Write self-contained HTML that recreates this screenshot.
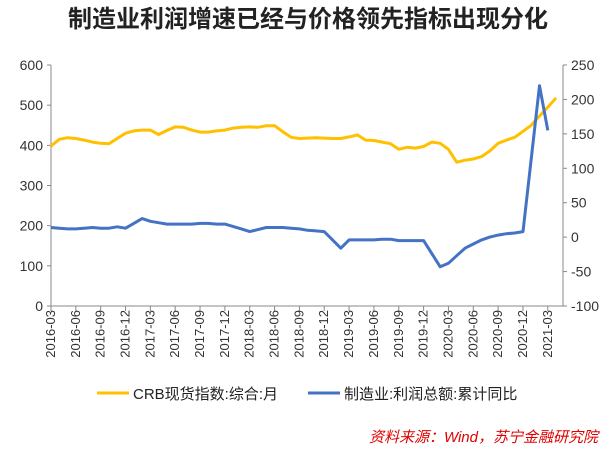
<!DOCTYPE html>
<html><head><meta charset="utf-8"><style>
body{margin:0;background:#fff;width:610px;height:448px;overflow:hidden;font-family:"Liberation Sans","Noto Sans CJK SC",sans-serif}
svg text{font-family:"Liberation Sans","Noto Sans CJK SC",sans-serif}
</style></head><body>
<svg id="chart" width="610" height="448" xmlns="http://www.w3.org/2000/svg">
<text x="308" y="27" text-anchor="middle" font-size="24" font-weight="bold" fill="#222">制造业利润增速已经与价格领先指标出现分化</text>
<g id="axes"></g>
<g id="marks"></g>
<g>
<line x1="97" y1="393" x2="129" y2="393" stroke="#FFC000" stroke-width="3"/>
<text x="133" y="399" font-size="15" fill="#222">CRB现货指数:综合:月</text>
<line x1="308" y1="393" x2="340" y2="393" stroke="#4472C4" stroke-width="3"/>
<text x="344" y="399" font-size="15" fill="#222">制造业:利润总额:累计同比</text>
</g>
<text x="598" y="442" text-anchor="end" font-size="15" font-style="italic" fill="#E00000">资料来源：Wind，苏宁金融研究院</text>
</svg>
<script>
const months = [];
for (let y = 2016, m = 3; months.length < 62; ) { months.push(y + '-' + String(m).padStart(2,'0')); m++; if (m > 12) { m = 1; y++; } }
const leftTicks = [0,100,200,300,400,500,600];
const rightTicks = [-100,-50,0,50,100,150,200,250];
const crbValues = [398,415,419,417,413,408,405,404,417,430,436,438,438,427,437,446,445,438,433,433,436,438,443,445,446,445,449,449,434,420,417,418,419,418,417,417,421,426,413,412,408,404,390,395,393,397,408,405,390,358,363,366,372,386,405,413,420,435,450,473,495,518];
const profitValues = [14,13,12,12,13,14,13,13,15,13,null,27,23,21,19,19,19,19,20,20,19,19,null,12,8,11,14,14,14,13,12,10,9,8,null,-16,-4,-4,-4,-4,-3,-3,-5,-5,-5,-5,null,-43,-38,-27,-16,-10,-4,0,3,5,6,8,null,220,155,null];

const NS = 'http://www.w3.org/2000/svg';
const X0 = 51, DX = 8.28, YB = 306, YT = 65, XR = 563;
const xOf = i => X0 + i * DX;
const yL = v => YB - (v - 0) / 600 * (YB - YT);
const yR = v => YB - (v + 100) / 350 * (YB - YT);
function mk(tag, attrs, parent, text) {
  const e = document.createElementNS(NS, tag);
  for (const k in attrs) e.setAttribute(k, attrs[k]);
  if (text !== undefined) e.textContent = text;
  parent.appendChild(e); return e;
}
const axes = document.getElementById('axes'), marks = document.getElementById('marks');
let e;
e = mk('line', {x1:X0,y1:YT,x2:X0,y2:YB,stroke:'#888'}, axes);


e = mk('line', {x1:XR,y1:YT,x2:XR,y2:YB,stroke:'#888'}, axes);


e = mk('line', {x1:X0,y1:YB,x2:XR,y2:YB,stroke:'#888'}, axes);


leftTicks.forEach(v => {
  mk('line', {x1:X0-4,y1:yL(v),x2:X0,y2:yL(v),stroke:'#888'}, axes);
  e = mk('text', {x:X0-8,y:yL(v)+5,'text-anchor':'end','font-size':14,fill:'#333'}, axes, v);
  
  
});
rightTicks.forEach(v => {
  mk('line', {x1:XR,y1:yR(v),x2:XR+4,y2:yR(v),stroke:'#888'}, axes);
  e = mk('text', {x:XR+8,y:yR(v)+5,'font-size':14,fill:'#333'}, axes, v);
  
  
});
months.forEach((m, i) => {
  if (i % 3 !== 0) return;
  mk('line', {x1:xOf(i),y1:YB,x2:xOf(i),y2:YB+5,stroke:'#888'}, axes);
  const x = xOf(i) + 4, y = 310;
  e = mk('text', {x:x,y:y,'text-anchor':'end','font-size':13,fill:'#333',transform:`rotate(-90 ${x} ${y})`}, axes, m);
  
  
});
function pathFor(vals, yf) {
  let d = '';
  vals.forEach((v, i) => { if (v === null) return; d += (d ? 'L' : 'M') + xOf(i).toFixed(1) + ' ' + yf(v).toFixed(1); });
  return d;
}
e = mk('path', {d:pathFor(crbValues, yL),fill:'none',stroke:'#FFC000','stroke-width':3,'stroke-linejoin':'round'}, marks);


e = mk('path', {d:pathFor(profitValues, yR),fill:'none',stroke:'#4472C4','stroke-width':3,'stroke-linejoin':'round'}, marks);


</script>
</body></html>
